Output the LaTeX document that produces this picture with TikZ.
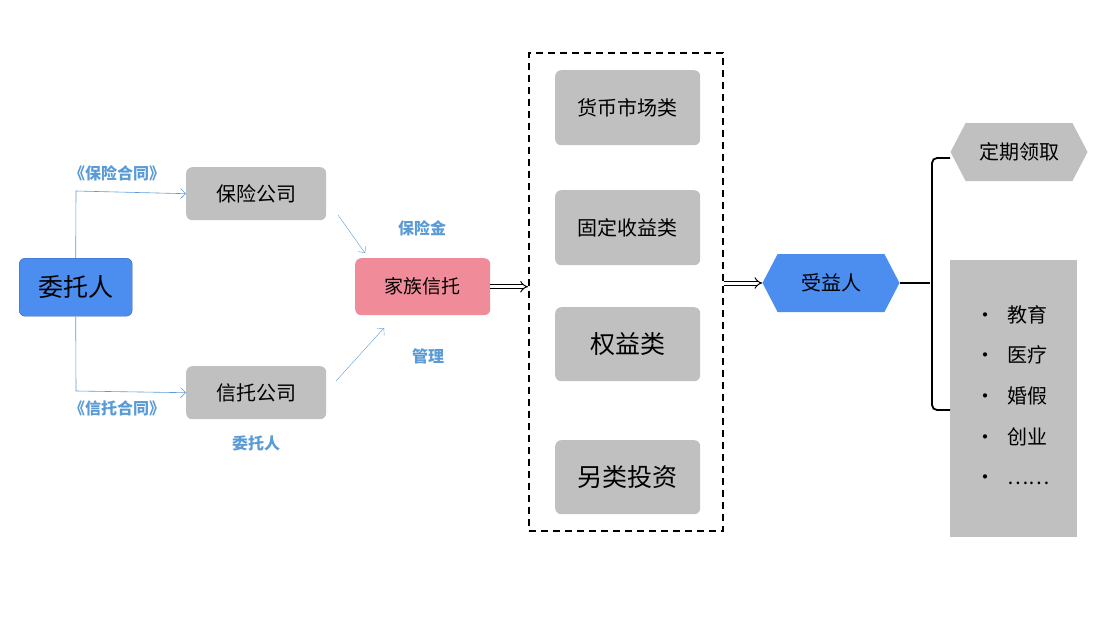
\documentclass[tikz,border=0pt]{standalone}
\usepackage{fontspec}
\setmainfont{Noto Sans CJK SC}
\usetikzlibrary{arrows.meta,shapes.symbols}
\definecolor{bl}{HTML}{4C8DF0}
\definecolor{gr}{HTML}{C0C0C0}
\definecolor{pk}{HTML}{F08C9A}
\definecolor{lb}{HTML}{5B9BD5}
\begin{document}
\begin{tikzpicture}[x=1pt,y=-1pt,
 box/.style={rounded corners=6pt,fill=gr,inner sep=0pt,anchor=north west,font=\fontsize{20}{22}\selectfont},
 lab/.style={text=lb,font=\bfseries\fontsize{16}{18}\selectfont},
 thin/.style={draw=lb,-{Straight Barb[length=5pt]},line width=0.6pt},
 hol/.style={double,double distance=3pt,line width=1pt,-{Implies[]}},
 hex/.style={signal,signal to=east and west,signal pointer angle=125,inner sep=0pt,font=\fontsize{20}{22}\selectfont}]
\useasboundingbox (0,0) rectangle (1107,623);
\node[box,fill=bl,draw=bl!70!black,line width=0.4pt,minimum width=113pt,minimum height=58pt,font=\fontsize{25}{27}\selectfont] (wt) at (19,258) {委托人};
\node[box,minimum width=140pt,minimum height=53pt] (bx) at (186,167) {保险公司};
\node[box,minimum width=140pt,minimum height=53pt] (xt) at (186,366) {信托公司};
\node[box,fill=pk,minimum width=135pt,minimum height=57pt,font=\fontsize{19}{21}\selectfont] (jz) at (355,258) {家族信托};
\coordinate (c1) at (76,191); \coordinate (c2) at (76,391);
\draw[thin] (wt.north) -- (c1) -- (bx.west);
\draw[thin] (wt.south) -- (c2) -- (xt.west);
\node[lab] (l1) at (117,173) {《保险合同》};
\node[lab] (l2) at (117,408) {《信托合同》};
\node[lab] (l3) at (256,443) {委托人};
\node[lab] (l4) at (422,228) {保险金};
\node[lab] (l5) at (428,356) {管理};
\coordinate (a1) at (338,215); \coordinate (a2) at (365,253);
\coordinate (b1) at (336,381); \coordinate (b2) at (384,328);
\draw[thin,line width=0.4pt] (a1) -- (a2);
\draw[thin,line width=0.4pt] (b1) -- (b2);
\node[draw,dashed,line width=1.6pt,dash pattern=on 7pt off 5pt,minimum width=194pt,minimum height=478pt,anchor=north west,inner sep=0pt] (dr) at (528,52) {};
\draw[hol] (jz.east) -- (dr.west|-jz.east);
\node[box,minimum width=145pt,minimum height=75pt] (m1) at (555,70) {货币市场类};
\node[box,minimum width=145pt,minimum height=75pt] (m2) at (555,190) {固定收益类};
\node[box,minimum width=145pt,minimum height=74pt,font=\fontsize{25}{27}\selectfont] (m3) at (555,307) {权益类};
\node[box,minimum width=145pt,minimum height=74pt,font=\fontsize{25}{27}\selectfont] (m4) at (555,440) {另类投资};
\node[hex,fill=bl,minimum width=137pt,minimum height=58pt] (sy) at (831,283) {受益人};
\draw[hol] (dr.east|-sy.west) -- (sy.west);
\node[hex,fill=gr,minimum width=137pt,minimum height=58pt] (dq) at (1019,152) {定期领取};
\node[fill=gr,minimum width=127pt,minimum height=277pt,anchor=north west,inner sep=0pt] (lst) at (950,260) {};
\coordinate (br) at (930,283); \coordinate (bt) at (950,158); \coordinate (bb) at (950,410);
\draw[line width=2pt] (sy.east) -- (br);
\draw[line width=1.8pt,rounded corners=5pt] (bt) -- (932,158) -- (932,410) -- (bb);
\foreach \t/\y in {教育/315,医疗/355,婚假/396,创业/437,……/480}{
 \node[anchor=west,font=\fontsize{20}{22}\selectfont] at (972,\y) {•\hspace{12pt}\t};}
\end{tikzpicture}
\end{document}
